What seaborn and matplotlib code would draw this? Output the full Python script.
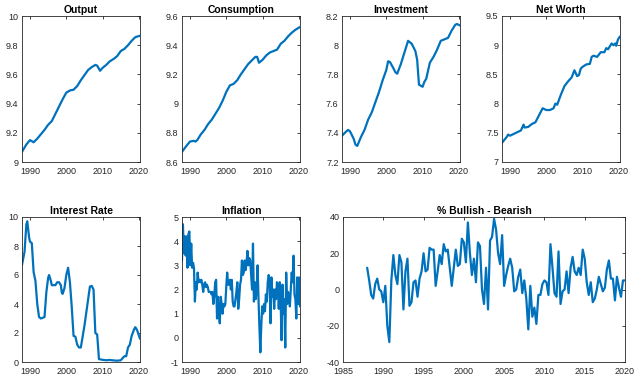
import numpy as np
import pandas as pd
import matplotlib
matplotlib.use("Agg")
import matplotlib.pyplot as plt
import seaborn as sns

# ---- data ----
output_t = [1987.8, 1989, 1990, 1991, 1992, 1993, 1994, 1995, 1996, 1997, 1998, 1999, 2000,
            2001, 2002, 2003, 2004, 2005, 2006, 2007, 2008, 2008.5, 2009.3, 2010, 2011, 2012,
            2013, 2014, 2015, 2016, 2017, 2018, 2019, 2020.3]
output_v = [9.07, 9.12, 9.15, 9.135, 9.16, 9.19, 9.22, 9.255, 9.28, 9.33, 9.38, 9.43, 9.475,
            9.49, 9.495, 9.52, 9.56, 9.595, 9.63, 9.65, 9.665, 9.66, 9.625, 9.645, 9.665, 9.69,
            9.705, 9.725, 9.76, 9.775, 9.80, 9.83, 9.855, 9.865]

cons_t = [1987.8, 1989, 1990, 1991, 1991.5, 1992, 1993, 1994, 1995, 1996, 1997, 1998, 1999,
          2000, 2001, 2002, 2003, 2004, 2005, 2006, 2007, 2008, 2008.5, 2009, 2010, 2011, 2012,
          2013, 2014, 2015, 2016, 2017, 2018, 2019, 2020.3]
cons_v = [8.67, 8.71, 8.74, 8.745, 8.74, 8.75, 8.79, 8.82, 8.86, 8.89, 8.93, 8.97, 9.02,
          9.08, 9.125, 9.135, 9.16, 9.20, 9.235, 9.27, 9.295, 9.32, 9.32, 9.28, 9.30, 9.33, 9.35,
          9.36, 9.37, 9.41, 9.43, 9.46, 9.485, 9.505, 9.525]

inv_t = [1987.8, 1989, 1989.5, 1990, 1991, 1991.5, 1992, 1993, 1994, 1995, 1996, 1997, 1998,
         1999, 2000, 2000.5, 2001, 2002, 2002.5, 2003, 2004, 2005, 2006, 2007, 2008, 2008.5,
         2009, 2010, 2010.5, 2011, 2012, 2013, 2014, 2015, 2016, 2017, 2018, 2019, 2019.5, 2020.3]
inv_v = [7.38, 7.41, 7.42, 7.41, 7.36, 7.32, 7.31, 7.37, 7.42, 7.49, 7.54, 7.61, 7.68,
         7.76, 7.83, 7.89, 7.885, 7.84, 7.815, 7.805, 7.87, 7.95, 8.03, 8.01, 7.96, 7.90,
         7.73, 7.715, 7.75, 7.77, 7.88, 7.92, 7.97, 8.03, 8.04, 8.05, 8.10, 8.14, 8.145, 8.135]

nw_t = [1987.8, 1989, 1989.5, 1990, 1991, 1992, 1993, 1993.75, 1994, 1995, 1996, 1997, 1998,
        1999, 2000, 2001, 2002, 2002.5, 2003, 2004, 2005, 2006, 2007, 2007.75, 2008.5, 2009,
        2009.5, 2010, 2011, 2012, 2012.5, 2013, 2014, 2015, 2016, 2016.5, 2017, 2017.5, 2018,
        2018.5, 2019, 2019.25, 2019.75, 2020.3]
nw_v = [7.33, 7.42, 7.47, 7.45, 7.48, 7.51, 7.54, 7.64, 7.59, 7.60, 7.65, 7.68, 7.80,
        7.92, 7.89, 7.89, 7.92, 8.00, 7.98, 8.15, 8.30, 8.38, 8.45, 8.57, 8.47, 8.49,
        8.60, 8.63, 8.67, 8.68, 8.80, 8.82, 8.80, 8.88, 8.88, 8.95, 8.93, 8.98, 9.03,
        9.00, 9.03, 8.99, 9.10, 9.15]

rate_t = [1987.8, 1988.5, 1989, 1989.25, 1989.75, 1990, 1990.5, 1991, 1991.5, 1992, 1992.5,
          1993, 1994, 1994.5, 1995, 1995.25, 1995.75, 1996, 1997, 1997.5, 1998, 1998.5, 1998.75,
          1999, 1999.5, 2000, 2000.5, 2001, 2001.5, 2002, 2002.5, 2003, 2003.5, 2004, 2005,
          2006, 2006.5, 2007, 2007.5, 2008, 2008.5, 2009, 2010, 2011, 2012, 2013, 2014, 2015,
          2016, 2016.5, 2017, 2017.5, 2018, 2018.75, 2019, 2019.5, 2020.3]
rate_v = [6.7, 7.6, 9.5, 9.7, 8.6, 8.3, 8.2, 6.2, 5.6, 4.0, 3.1,
          3.0, 3.1, 4.8, 5.8, 6.0, 5.6, 5.3, 5.3, 5.5, 5.5, 5.3, 4.8,
          4.7, 5.1, 6.0, 6.5, 5.5, 3.8, 1.8, 1.75, 1.2, 1.0, 1.0, 2.5,
          4.3, 5.2, 5.25, 5.0, 2.0, 1.9, 0.2, 0.15, 0.12, 0.14, 0.11, 0.09, 0.12,
          0.4, 0.4, 1.0, 1.2, 1.8, 2.3, 2.4, 2.2, 1.6]

# quarterly inflation, 1988Q1 .. 2020Q1
inflation = [3.2, 4.7, 3.5, 4.2, 3.4, 4.2, 2.9, 4.3,
             4.4, 3.0, 3.9, 2.9, 3.1, 2.9, 1.5, 2.3,
             2.0, 2.7, 2.3, 2.4, 2.3, 2.4, 2.2, 1.9,
             2.2, 2.3, 2.1, 2.2, 2.1, 1.9, 1.9, 1.9,
             1.8, 1.9, 1.4, 1.7, 2.3, 2.4, 0.8, 1.7,
             1.1, 0.6, 1.7, 1.4, 1.0, 1.4, 1.3, 1.4,
             2.1, 2.7, 2.2, 2.2, 2.4, 2.0, 2.4, 1.5,
             1.3, 1.3, 1.6, 1.9, 2.3, 1.2, 1.6, 2.2,
             2.4, 3.2, 2.6, 2.7, 3.2, 2.8, 3.1, 3.6,
             3.0, 3.3, 3.2, 2.6, 2.0, 3.9, 1.5, 2.3,
             1.6, 2.0, 3.0, 1.6, 0.4, -0.6, 0.5, 1.3,
             1.0, 1.4, 1.1, 1.8, 1.5, 2.3, 2.6, 2.4,
             0.6, 2.5, 1.7, 2.0, 1.2, 2.0, 1.6, 2.3,
             2.1, 1.2, 2.3, 1.5, -0.1, 2.2, 1.0, 1.6,
             -0.4, 2.7, 1.4, 1.9, 1.7, 1.3, 2.0, 2.7,
             2.3, 3.4, 1.8, 1.6, 0.8, 2.5, 1.4, 2.5,
             1.3]

# quarterly % bullish - bearish, 1988Q1 .. 2020Q1
bull_bear = [12, 5, -3, -5, 3, 6, 0, -1,
             -7, 2, -20, -29, 5, 19, 8, 3,
             19, 15, -11, 10, 17, -9, -7, 4,
             5, -4, 6, 10, 20, 10, 11, 23,
             22, 22, 2, 10, 19, 14, 25, 21,
             22, 12, 2, 12, 22, 13, 14, 28,
             26, 15, 37, 20, 8, 17, 4, 26,
             24, 0, -8, 12, -11, 27, 29, 39,
             33, 20, 14, 30, 2, 8, 13, 17,
             12, -1, 0, 7, 11, -2, 5, -5,
             -22, 2, -15, -10, -19, -3, -3, 3,
             5, 4, -3, 25, 12, -2, -4, 21,
             -8, -1, 0, 10, -2, 12, 18, 10,
             8, 12, 8, 22, 17, 4, -3, 4,
             -7, -5, 0, 7, 3, -1, 1, 11,
             16, 6, 6, -6, 7, 1, -4, 5,
             5]

blue = "#0072BD"
dark = "#262626"

sns.set_style("white")
plt.rcParams["font.family"] = ["Liberation Sans", "DejaVu Sans"]

fig = plt.figure(figsize=(6.36, 3.78), dpi=100)
W, H = 636, 378


def make_ax(left, top, width, height):
    return fig.add_axes([left / W, 1 - (top + height) / H, width / W, height / H])


def style(ax, title, xlim, xticks, ylim, yticks):
    ax.set_xlim(xlim)
    ax.set_ylim(ylim)
    ax.set_xticks(xticks)
    ax.set_yticks(yticks)
    ax.set_yticklabels([f"{v:g}" for v in yticks])
    ax.set_title(title, fontsize=7.5, fontweight="bold", color="black", pad=2)
    ax.tick_params(direction="in", length=2.5, width=0.6, labelsize=6.5, colors=dark,
                   top=True, right=True)
    ax.tick_params(axis="x", pad=3.5)
    ax.tick_params(axis="y", pad=2.5)
    for s in ax.spines.values():
        s.set_visible(True)
        s.set_color(dark)
        s.set_linewidth(0.6)
    ax.set_xlabel("")
    ax.set_ylabel("")


top_xlim = (1987.8, 2020.3)
yr_ticks = [1990, 2000, 2010, 2020]

panels = [
    ("Output", output_t, output_v, (9, 10), [9, 9.2, 9.4, 9.6, 9.8, 10], 22),
    ("Consumption", cons_t, cons_v, (8.6, 9.6), [8.6, 8.8, 9, 9.2, 9.4, 9.6], 182),
    ("Investment", inv_t, inv_v, (7.2, 8.2), [7.2, 7.4, 7.6, 7.8, 8, 8.2], 342),
    ("Net Worth", nw_t, nw_v, (7, 9.5), [7, 7.5, 8, 8.5, 9, 9.5], 502),
]
for title, t, v, ylim, yt, left in panels:
    ax = make_ax(left, 16, 118, 146)
    sns.lineplot(x=t, y=v, ax=ax, color=blue, linewidth=1.6)
    style(ax, title, top_xlim, yr_ticks, ylim, yt)

ax = make_ax(22, 217, 118, 145)
sns.lineplot(x=rate_t, y=rate_v, ax=ax, color=blue, linewidth=1.6)
style(ax, "Interest Rate", top_xlim, yr_ticks, (0, 10), [0, 2, 4, 6, 8, 10])

infl_t = np.linspace(1987.8, 2020.3, len(inflation))
ax = make_ax(182, 217, 118, 145)
sns.lineplot(x=infl_t, y=inflation, ax=ax, color=blue, linewidth=1.6)
style(ax, "Inflation", top_xlim, yr_ticks, (-1, 5), [-1, 0, 1, 2, 3, 4, 5])

bb = pd.DataFrame({"t": 1988 + np.arange(len(bull_bear)) / 4, "v": bull_bear})
ax = make_ax(343, 217, 282, 145)
sns.lineplot(data=bb, x="t", y="v", ax=ax, color=blue, linewidth=1.6)
style(ax, "% Bullish - Bearish", (1985, 2020), list(range(1985, 2021, 5)),
      (-40, 40), [-40, -20, 0, 20, 40])

fig.savefig("out.png", dpi=100)
